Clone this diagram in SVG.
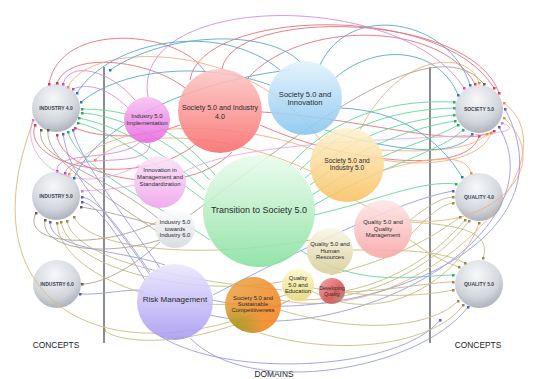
<svg xmlns="http://www.w3.org/2000/svg" width="550" height="379" viewBox="0 0 550 379">
<style>
text{font-family:"Liberation Sans",Arial,sans-serif;text-anchor:middle;fill:#2a2a2a}
.cl{font-size:5px;font-weight:bold;fill:#404650}
.hd{font-size:8.4px;fill:#1a1a1a}
#conn path{fill:none;stroke-width:0.9}
.r{stroke:#e8707a;marker-end:url(#mr)}
.m{stroke:#d88ae0;marker-end:url(#mm)}
.o{stroke:#f4b080;marker-end:url(#mo)}
.b{stroke:#58a8d0;marker-end:url(#mb)}
.g{stroke:#60d898;marker-end:url(#mg)}
.u{stroke:#9a9ae8;marker-end:url(#mu)}
.v{stroke:#c8bc80;marker-end:url(#mv)}
.n{stroke:#b0a090;marker-end:url(#mn)}
.p{stroke:#f0a8e0;marker-end:url(#mp)}
.t{stroke:#d8b878}
.dom circle{fill-opacity:0.88}
.cpt circle{fill:url(#gc)}
</style>
<defs>
<marker id="mr" viewBox="0 0 4 4" refX="2" refY="2" markerWidth="3" markerHeight="3" markerUnits="userSpaceOnUse"><rect width="4" height="4" fill="#e03848"/></marker>
<marker id="mm" viewBox="0 0 4 4" refX="2" refY="2" markerWidth="3" markerHeight="3" markerUnits="userSpaceOnUse"><rect width="4" height="4" fill="#c848d0"/></marker>
<marker id="mo" viewBox="0 0 4 4" refX="2" refY="2" markerWidth="3" markerHeight="3" markerUnits="userSpaceOnUse"><rect width="4" height="4" fill="#f09040"/></marker>
<marker id="mb" viewBox="0 0 4 4" refX="2" refY="2" markerWidth="3" markerHeight="3" markerUnits="userSpaceOnUse"><rect width="4" height="4" fill="#2878c0"/></marker>
<marker id="mg" viewBox="0 0 4 4" refX="2" refY="2" markerWidth="3" markerHeight="3" markerUnits="userSpaceOnUse"><rect width="4" height="4" fill="#20b060"/></marker>
<marker id="mu" viewBox="0 0 4 4" refX="2" refY="2" markerWidth="3" markerHeight="3" markerUnits="userSpaceOnUse"><rect width="4" height="4" fill="#5858d8"/></marker>
<marker id="mv" viewBox="0 0 4 4" refX="2" refY="2" markerWidth="3" markerHeight="3" markerUnits="userSpaceOnUse"><rect width="4" height="4" fill="#9a8a40"/></marker>
<marker id="mn" viewBox="0 0 4 4" refX="2" refY="2" markerWidth="3" markerHeight="3" markerUnits="userSpaceOnUse"><rect width="4" height="4" fill="#6a5a4a"/></marker>
<marker id="mp" viewBox="0 0 4 4" refX="2" refY="2" markerWidth="3" markerHeight="3" markerUnits="userSpaceOnUse"><rect width="4" height="4" fill="#e070c8"/></marker>
<radialGradient id="gc" cx="0.45" cy="0.3" r="0.8"><stop offset="0" stop-color="#f7f8fa"/><stop offset="0.6" stop-color="#d2d6dc"/><stop offset="1" stop-color="#9ca2ae"/></radialGradient>
<linearGradient id="g1" x1="0" y1="0" x2="0" y2="1"><stop offset="0" stop-color="#f6c0f2"/><stop offset="1" stop-color="#e866e0"/></linearGradient>
<linearGradient id="g2" x1="0" y1="0" x2="0" y2="1"><stop offset="0" stop-color="#fcc8c6"/><stop offset="1" stop-color="#f86a6a"/></linearGradient>
<linearGradient id="g3" x1="0" y1="0" x2="0" y2="1"><stop offset="0" stop-color="#e2f2fc"/><stop offset="1" stop-color="#86c4f0"/></linearGradient>
<linearGradient id="g4" x1="0" y1="0" x2="0" y2="1"><stop offset="0" stop-color="#fff2d0"/><stop offset="1" stop-color="#f8c060"/></linearGradient>
<linearGradient id="g5" x1="0" y1="0" x2="0" y2="1"><stop offset="0" stop-color="#eafcec"/><stop offset="1" stop-color="#86e09e"/></linearGradient>
<linearGradient id="g6" x1="0" y1="0" x2="0" y2="1"><stop offset="0" stop-color="#fae4f8"/><stop offset="1" stop-color="#f0a2ea"/></linearGradient>
<linearGradient id="g7" x1="0" y1="0" x2="0" y2="1"><stop offset="0" stop-color="#ffffff"/><stop offset="1" stop-color="#d4d8de"/></linearGradient>
<linearGradient id="g8" x1="0" y1="0" x2="0" y2="1"><stop offset="0" stop-color="#eae6ff"/><stop offset="1" stop-color="#a698f0"/></linearGradient>
<linearGradient id="g9" x1="0" y1="0" x2="1" y2="1"><stop offset="0" stop-color="#e8a848"/><stop offset="0.5" stop-color="#f09030"/><stop offset="1" stop-color="#f47c10"/></linearGradient>
<radialGradient id="g9b" cx="0.2" cy="0.95" r="0.5"><stop offset="0" stop-color="#8ca020" stop-opacity="0.9"/><stop offset="1" stop-color="#8ca020" stop-opacity="0"/></radialGradient>
<linearGradient id="g10" x1="0" y1="0" x2="0" y2="1"><stop offset="0" stop-color="#fce6e6"/><stop offset="1" stop-color="#f8a4a4"/></linearGradient>
<linearGradient id="g11" x1="0" y1="0" x2="0" y2="1"><stop offset="0" stop-color="#faf6e4"/><stop offset="1" stop-color="#d6cc98"/></linearGradient>
<linearGradient id="g12" x1="0" y1="0" x2="0" y2="1"><stop offset="0" stop-color="#fcf8c8"/><stop offset="1" stop-color="#e8d676"/></linearGradient>
<linearGradient id="g13" x1="0" y1="0" x2="1" y2="1"><stop offset="0" stop-color="#f09a9a"/><stop offset="0.6" stop-color="#d85050"/><stop offset="1" stop-color="#a09080"/></linearGradient>
</defs>
<rect width="550" height="379" fill="#ffffff"/>

<g id="axes" stroke="#4a5058" stroke-width="1.3">
<line x1="104" y1="67" x2="104" y2="343"/>
<line x1="430" y1="67" x2="430" y2="343"/>
</g>
<text class="hd" x="56" y="348">CONCEPTS</text>
<text class="hd" x="478" y="348">CONCEPTS</text>
<text class="hd" x="274" y="377">DOMAINS</text>

<g class="cpt">
<g id="industry40"><circle cx="56" cy="108" r="24"/><text class="cl" x="56" y="110">INDUSTRY 4.0</text></g>
<g id="industry50"><circle cx="56" cy="196" r="24"/><text class="cl" x="56" y="198">INDUSTRY 5.0</text></g>
<g id="industry60"><circle cx="57" cy="284" r="24"/><text class="cl" x="57" y="286">INDUSTRY 6.0</text></g>
<g id="society50"><circle cx="479" cy="109" r="24"/><text class="cl" x="479" y="111">SOCIETY 5.0</text></g>
<g id="quality40"><circle cx="479" cy="197" r="24"/><text class="cl" x="479" y="199">QUALITY 4.0</text></g>
<g id="quality50"><circle cx="479" cy="284" r="24"/><text class="cl" x="479" y="286">QUALITY 5.0</text></g>
</g>

<g id="conn">
<path class="r" d="M190,80 C200,10 440,0 494,88"/>
<path class="r" d="M222,69 C232,8 470,10 499,93"/>
<path class="r" d="M248,78 C300,20 440,20 475,84"/>
<path class="r" d="M205,72 C180,30 60,20 49,84"/>
<path class="r" d="M185,88 C150,60 70,50 57,83"/>
<path class="r" d="M260,125 C350,165 470,175 479,136"/>
<path class="r" d="M180,125 C140,140 100,138 75,128"/>
<path class="r" d="M232,152 C180,205 60,175 57,135"/>
<path class="r" d="M200,140 C150,190 20,170 35,125"/>
<path class="r" d="M262,112 C360,118 460,150 494,131"/>
<path class="m" d="M148,97 C130,-8 400,-12 464,88"/>
<path class="m" d="M135,100 C110,70 70,60 63,84"/>
<path class="m" d="M128,108 C105,85 85,84 73,89"/>
<path class="m" d="M140,142 C120,162 55,150 57,171"/>
<path class="m" d="M150,143 C150,172 70,150 65,173"/>
<path class="p" d="M135,185 C110,190 95,190 82,191"/>
<path class="p" d="M140,165 C60,205 20,150 33,120"/>
<path class="p" d="M184,172 C260,128 560,145 502,123"/>
<path class="o" d="M360,130 C400,50 470,50 479,83"/>
<path class="o" d="M380,150 C420,152 470,152 487,134"/>
<path class="o" d="M383,160 C430,168 482,160 491,133"/>
<path class="o" d="M320,140 C250,40 90,40 68,87"/>
<path class="o" d="M315,150 C200,110 90,130 69,174"/>
<path class="o" d="M383,170 C420,160 465,150 471,173"/>
<path class="o" d="M280,300 C420,330 580,160 504,103"/>
<path class="o" d="M355,200 C450,260 570,180 504,118"/>
<path class="o" d="M318,175 C250,140 140,120 95,160"/>
<path class="t" d="M290,300 C100,385 -35,300 33,122"/>
<path class="b" d="M320,65 C350,0 450,20 470,85"/>
<path class="b" d="M335,78 C380,40 440,50 458,95"/>
<path class="b" d="M340,108 C400,110 440,140 462,177"/>
<path class="b" d="M325,130 C390,150 455,160 472,134"/>
<path class="b" d="M280,70 C220,20 110,40 77,93"/>
<path class="b" d="M270,85 C200,60 120,70 81,102"/>
<path class="b" d="M290,70 C200,80 100,120 74,178"/>
<path class="b" d="M300,62 C270,30 170,30 110,70"/>
<path class="g" d="M290,165 C340,110 400,100 454,102"/>
<path class="g" d="M300,170 C350,120 400,110 454,108"/>
<path class="g" d="M305,178 C360,130 410,120 454,115"/>
<path class="g" d="M310,185 C370,140 420,127 455,121"/>
<path class="g" d="M312,195 C380,150 430,142 458,125"/>
<path class="g" d="M314,205 C390,162 440,152 463,130"/>
<path class="g" d="M215,175 C160,110 110,110 82,109"/>
<path class="g" d="M210,180 C160,130 110,115 82,113"/>
<path class="g" d="M205,190 C150,140 110,125 79,118"/>
<path class="g" d="M204,200 C150,160 110,130 78,123"/>
<path class="g" d="M210,240 C150,200 80,170 68,132"/>
<path class="g" d="M314,215 C380,200 420,180 456,184"/>
<path class="g" d="M300,250 C360,290 420,275 453,275"/>
<path class="u" d="M140,290 C120,290 100,295 80,294"/>
<path class="u" d="M150,272 C120,230 100,200 82,197"/>
<path class="u" d="M145,280 C120,240 100,205 82,202"/>
<path class="u" d="M165,265 C120,250 50,250 50,222"/>
<path class="u" d="M160,268 C120,210 80,160 73,130"/>
<path class="u" d="M150,275 C100,200 70,180 63,134"/>
<path class="u" d="M190,338 C250,400 420,370 468,307"/>
<path class="u" d="M212,300 C350,330 580,250 505,109"/>
<path class="u" d="M210,315 C360,350 560,230 499,127"/>
<path class="u" d="M213,295 C300,250 400,200 453,191"/>
<path class="u" d="M160,336 C230,380 400,370 440,320"/>
<path class="v" d="M410,220 C430,205 440,198 453,197"/>
<path class="v" d="M405,240 C430,215 440,205 453,203"/>
<path class="v" d="M330,275 C390,260 430,240 460,217"/>
<path class="v" d="M345,291 C400,280 440,250 465,220"/>
<path class="v" d="M300,300 C380,300 440,260 469,221"/>
<path class="v" d="M310,290 C380,330 460,280 479,223"/>
<path class="v" d="M410,222 C460,225 492,232 483,258"/>
<path class="v" d="M353,250 C400,250 440,250 465,263"/>
<path class="v" d="M410,240 C430,255 445,262 459,267"/>
<path class="v" d="M345,292 C400,290 430,282 453,282"/>
<path class="v" d="M313,288 C380,300 430,295 453,290"/>
<path class="v" d="M280,310 C380,340 440,320 458,301"/>
<path class="v" d="M260,333 C350,360 440,340 463,305"/>
<path class="v" d="M300,290 C200,330 60,280 57,223"/>
<path class="v" d="M290,280 C200,300 70,270 61,222"/>
<path class="v" d="M282,290 C180,280 75,260 67,221"/>
<path class="v" d="M310,240 C200,260 90,250 74,217"/>
<path class="v" d="M290,300 C200,350 120,345 104,330"/>
<path class="n" d="M160,220 C100,170 35,160 41,130"/>
<path class="n" d="M158,232 C100,192 45,160 48,130"/>
<path class="n" d="M157,222 C100,250 20,245 36,213"/>
<path class="n" d="M160,240 C100,258 40,248 45,220"/>
<path class="n" d="M156,225 C120,215 100,210 81,207"/>
<path class="n" d="M160,242 C130,270 100,284 82,284"/>
<path class="n" d="M190,215 C280,150 430,20 484,84"/>
</g>

<g class="dom">
<g id="impl"><circle cx="147" cy="120" r="23" fill="url(#g1)"/><text x="147" y="118" font-size="6">Industry 5.0</text><text x="147" y="125" font-size="6">Implementation</text></g>
<g id="socind4"><circle cx="220" cy="111" r="42" fill="url(#g2)"/><text x="220" y="110" font-size="7.1">Society 5.0 and Industry</text><text x="220" y="119" font-size="7.1">4.0</text></g>
<g id="socinnov"><circle cx="305" cy="98" r="37" fill="url(#g3)"/><text x="305" y="97" font-size="7.6">Society 5.0 and</text><text x="305" y="105" font-size="7.6">Innovation</text></g>
<g id="socind5"><circle cx="347" cy="165" r="37" fill="url(#g4)"/><text x="347" y="163" font-size="6.6">Society 5.0 and</text><text x="347" y="170" font-size="6.6">Industry 5.0</text></g>
<g id="innovmgmt"><circle cx="160" cy="182" r="26" fill="url(#g6)"/><text x="160" y="172" font-size="5.9">Innovation in</text><text x="160" y="179" font-size="5.9">Management and</text><text x="160" y="186" font-size="5.9">Standardization</text></g>
<g id="transition"><circle cx="259" cy="211" r="56" fill="url(#g5)"/><text x="259" y="213" font-size="9">Transition to Society 5.0</text></g>
<g id="ind56"><circle cx="175" cy="228" r="20" fill="url(#g7)"/><text x="175" y="224" font-size="5.9">Industry 5.0</text><text x="175" y="230.5" font-size="5.9">towards</text><text x="175" y="237" font-size="5.9">Industry 6.0</text></g>
<g id="risk"><circle cx="175" cy="302" r="38" fill="url(#g8)"/><text x="175" y="302" font-size="8">Risk Management</text></g>
<g id="sust"><circle cx="253" cy="305" r="28" fill="url(#g9)"/><circle cx="253" cy="305" r="28" fill="url(#g9b)"/><text x="253" y="300" font-size="5.8" fill="#7a2a18">Society 5.0 and</text><text x="253" y="306" font-size="5.8" fill="#7a2a18">Sustainable</text><text x="253" y="312" font-size="5.8" fill="#7a2a18">Competitiveness</text></g>
<g id="qqm"><circle cx="383" cy="229" r="29" fill="url(#g10)"/><text x="383" y="224" font-size="5.9">Quality 5.0 and</text><text x="383" y="230.5" font-size="5.9">Quality</text><text x="383" y="237" font-size="5.9">Management</text></g>
<g id="qhr"><circle cx="330" cy="251" r="23" fill="url(#g11)"/><text x="330" y="246" font-size="5.9">Quality 5.0 and</text><text x="330" y="252.5" font-size="5.9">Human</text><text x="330" y="259" font-size="5.9">Resources</text></g>
<g id="qedu"><circle cx="298" cy="285" r="16" fill="url(#g12)"/><text x="298" y="280" font-size="5.9">Quality</text><text x="298" y="286.5" font-size="5.9">5.0 and</text><text x="298" y="293" font-size="5.9">Education</text></g>
<g id="devq"><circle cx="332" cy="291" r="13" fill="url(#g13)"/><text x="332" y="290" font-size="5.1">Developing</text><text x="332" y="296" font-size="5.1">Quality</text></g>
</g>
</svg>
